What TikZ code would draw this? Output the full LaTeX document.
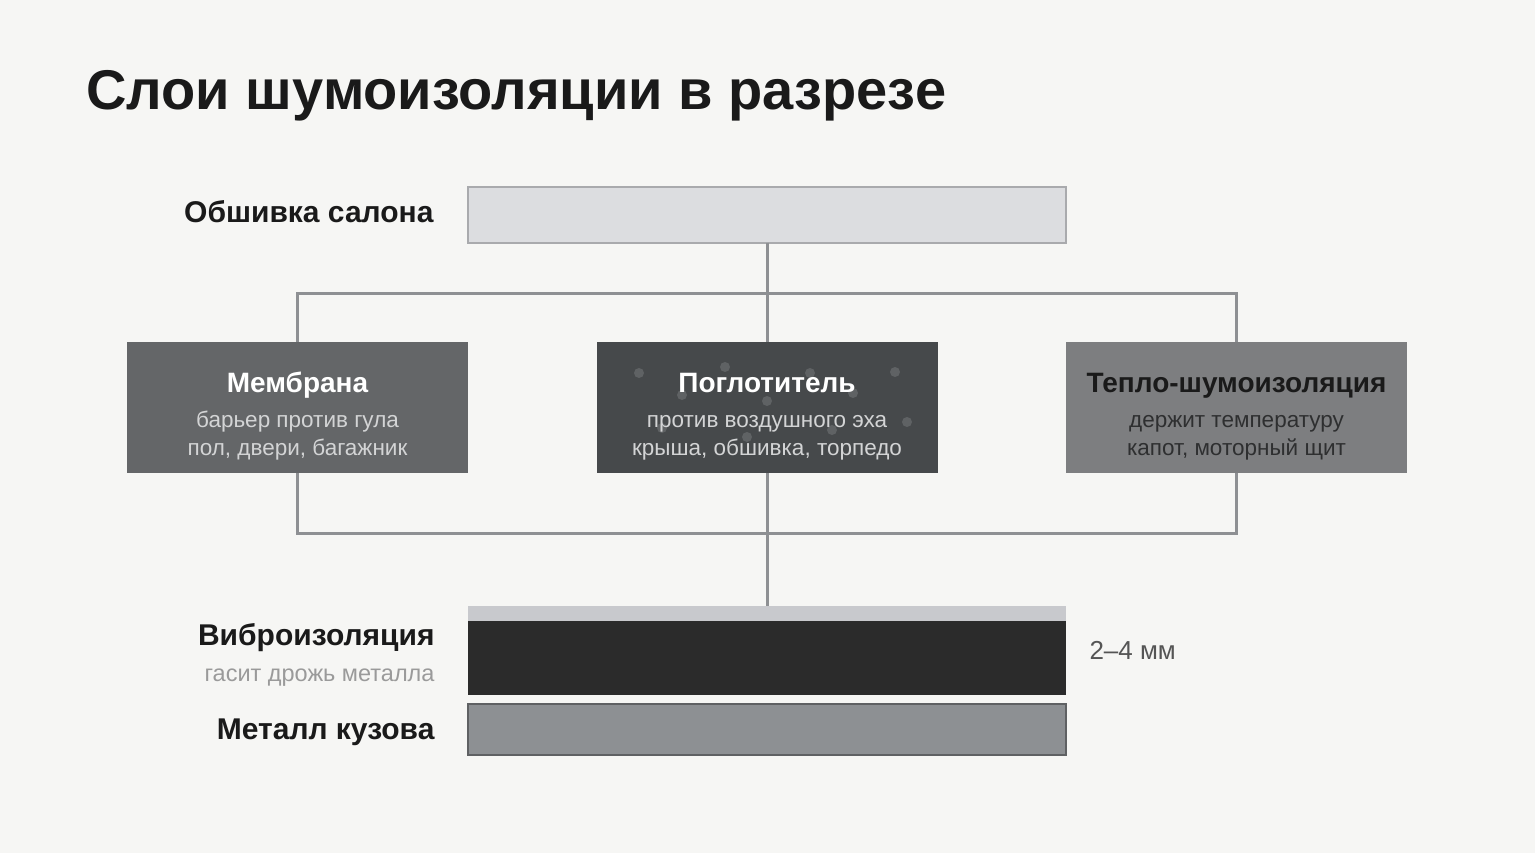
\documentclass[tikz,border=0pt]{standalone}
\usepackage{fontspec}
\setmainfont{Liberation Sans}
\usepackage{xcolor}
\usetikzlibrary{positioning}
\definecolor{paper}{HTML}{F6F6F4}
\definecolor{ink}{HTML}{1A1A1A}
\definecolor{muted}{HTML}{9A9A9A}
\definecolor{dim}{HTML}{555555}
\definecolor{wire}{HTML}{8E9093}
\definecolor{trimfill}{HTML}{DCDDE0}
\definecolor{trimedge}{HTML}{A9AAAD}
\definecolor{membrane}{HTML}{646668}
\definecolor{absorber}{HTML}{46494B}
\definecolor{heatins}{HTML}{7D7E80}
\definecolor{feltfill}{HTML}{C8C9CD}
\definecolor{damper}{HTML}{2B2B2B}
\definecolor{metalfill}{HTML}{8D9093}
\definecolor{metaledge}{HTML}{5F6163}
\definecolor{paletext}{HTML}{D3D4D5}
\definecolor{darktext}{HTML}{2E2F30}
\definecolor{fleck}{HTML}{5F6264}

\begin{document}
\begin{tikzpicture}[x=1pt, y=-1pt, line width=3pt,
  layer/.style={inner sep=0pt, outer sep=0pt, minimum width=598pt},
  card/.style={inner sep=0pt, outer sep=0pt, minimum width=341pt, minimum height=131pt},
  wire/.style={draw=wire, line width=3pt},
  head/.style={anchor=base east, inner sep=0pt, text=ink,
    font=\fontsize{30}{34}\selectfont\bfseries},
  cardhead/.style={anchor=base, inner sep=0pt, font=\fontsize{28}{32}\selectfont\bfseries},
  cardsub/.style={anchor=base, inner sep=0pt, font=\fontsize{22.5}{27}\selectfont}]

  % page colour fixes the frame
  \fill[paper] (0,0) rectangle (1535,853);

  \node[anchor=base west, inner sep=0pt, text=ink,
    font=\fontsize{56}{62}\selectfont\bfseries] (title) at (85,110) {Слои шумоизоляции в разрезе};

  % inner trim on top
  \node[layer, minimum height=56pt, fill=trimfill, draw=trimedge, line width=2pt] (trim) at (767,215) {};
  \node[head] (trimlab) at (435,223) {Обшивка салона};

  % the three middle materials, side by side
  \foreach \nm/\cx/\shade in {mem/297.5/membrane, abs/767/absorber, heat/1236.5/heatins}
    \node[card, fill=\shade] (\nm) at (\cx,407.5) {};

  % flecks of the porous absorber
  \foreach \dx/\dy in {639/373, 725/367, 682/395, 767/401, 810/373, 853/393,
                       895/372, 907/422, 747/437, 832/430, 662/428}
    \fill[fleck] (\dx,\dy) circle (5);

  \foreach \nm/\hc/\sc/\ttl/\la/\lb in {
      mem/white/paletext/Мембрана/барьер против гула/{пол, двери, багажник},
      abs/white/paletext/Поглотитель/против воздушного эха/{крыша, обшивка, торпедо},
      heat/ink/darktext/Тепло-шумоизоляция/держит температуру/{капот, моторный щит}}{
    \node[cardhead, text=\hc] (\nm-t) at ([yshift=15.5pt]\nm.center) {\ttl};
    \node[cardsub, text=\sc] (\nm-a) at ([yshift=-19.5pt]\nm.center) {\la};
    \node[cardsub, text=\sc] (\nm-b) at ([yshift=-47.5pt]\nm.center) {\lb};
  }

  % bottom stack: thin top film, damping mat, body metal
  \node[layer, minimum height=15pt, fill=feltfill] (felt) at (767,613.5) {};
  \node[layer, minimum height=74pt, fill=damper] (damp) at (767,658) {};
  \node[layer, minimum height=51pt, fill=metalfill, draw=metaledge, line width=2pt] (metal) at (767,729.5) {};

  \node[head] (damplab) at (436,645) {Виброизоляция};
  \node[anchor=base east, inner sep=0pt, text=muted,
    font=\fontsize{23.5}{28}\selectfont] (dampsub) at (436,681) {гасит дрожь металла};
  \node[head] (metallab) at (436,739) {Металл кузова};
  \node[anchor=base west, inner sep=0pt, text=dim,
    font=\fontsize{26}{30}\selectfont] (thick) at (1088,659) {2–4 мм};

  % connectors
  \coordinate (topbar) at (767,294);
  \coordinate (botbar) at (767,533);
  \draw[wire] (trim.south) -- (abs.north);
  \draw[wire] (mem.north) |- (topbar) -| (heat.north);
  \draw[wire] (mem.south) |- (botbar) -| (heat.south);
  \draw[wire] (abs.south) -- (felt.north);

\end{tikzpicture}
\end{document}
